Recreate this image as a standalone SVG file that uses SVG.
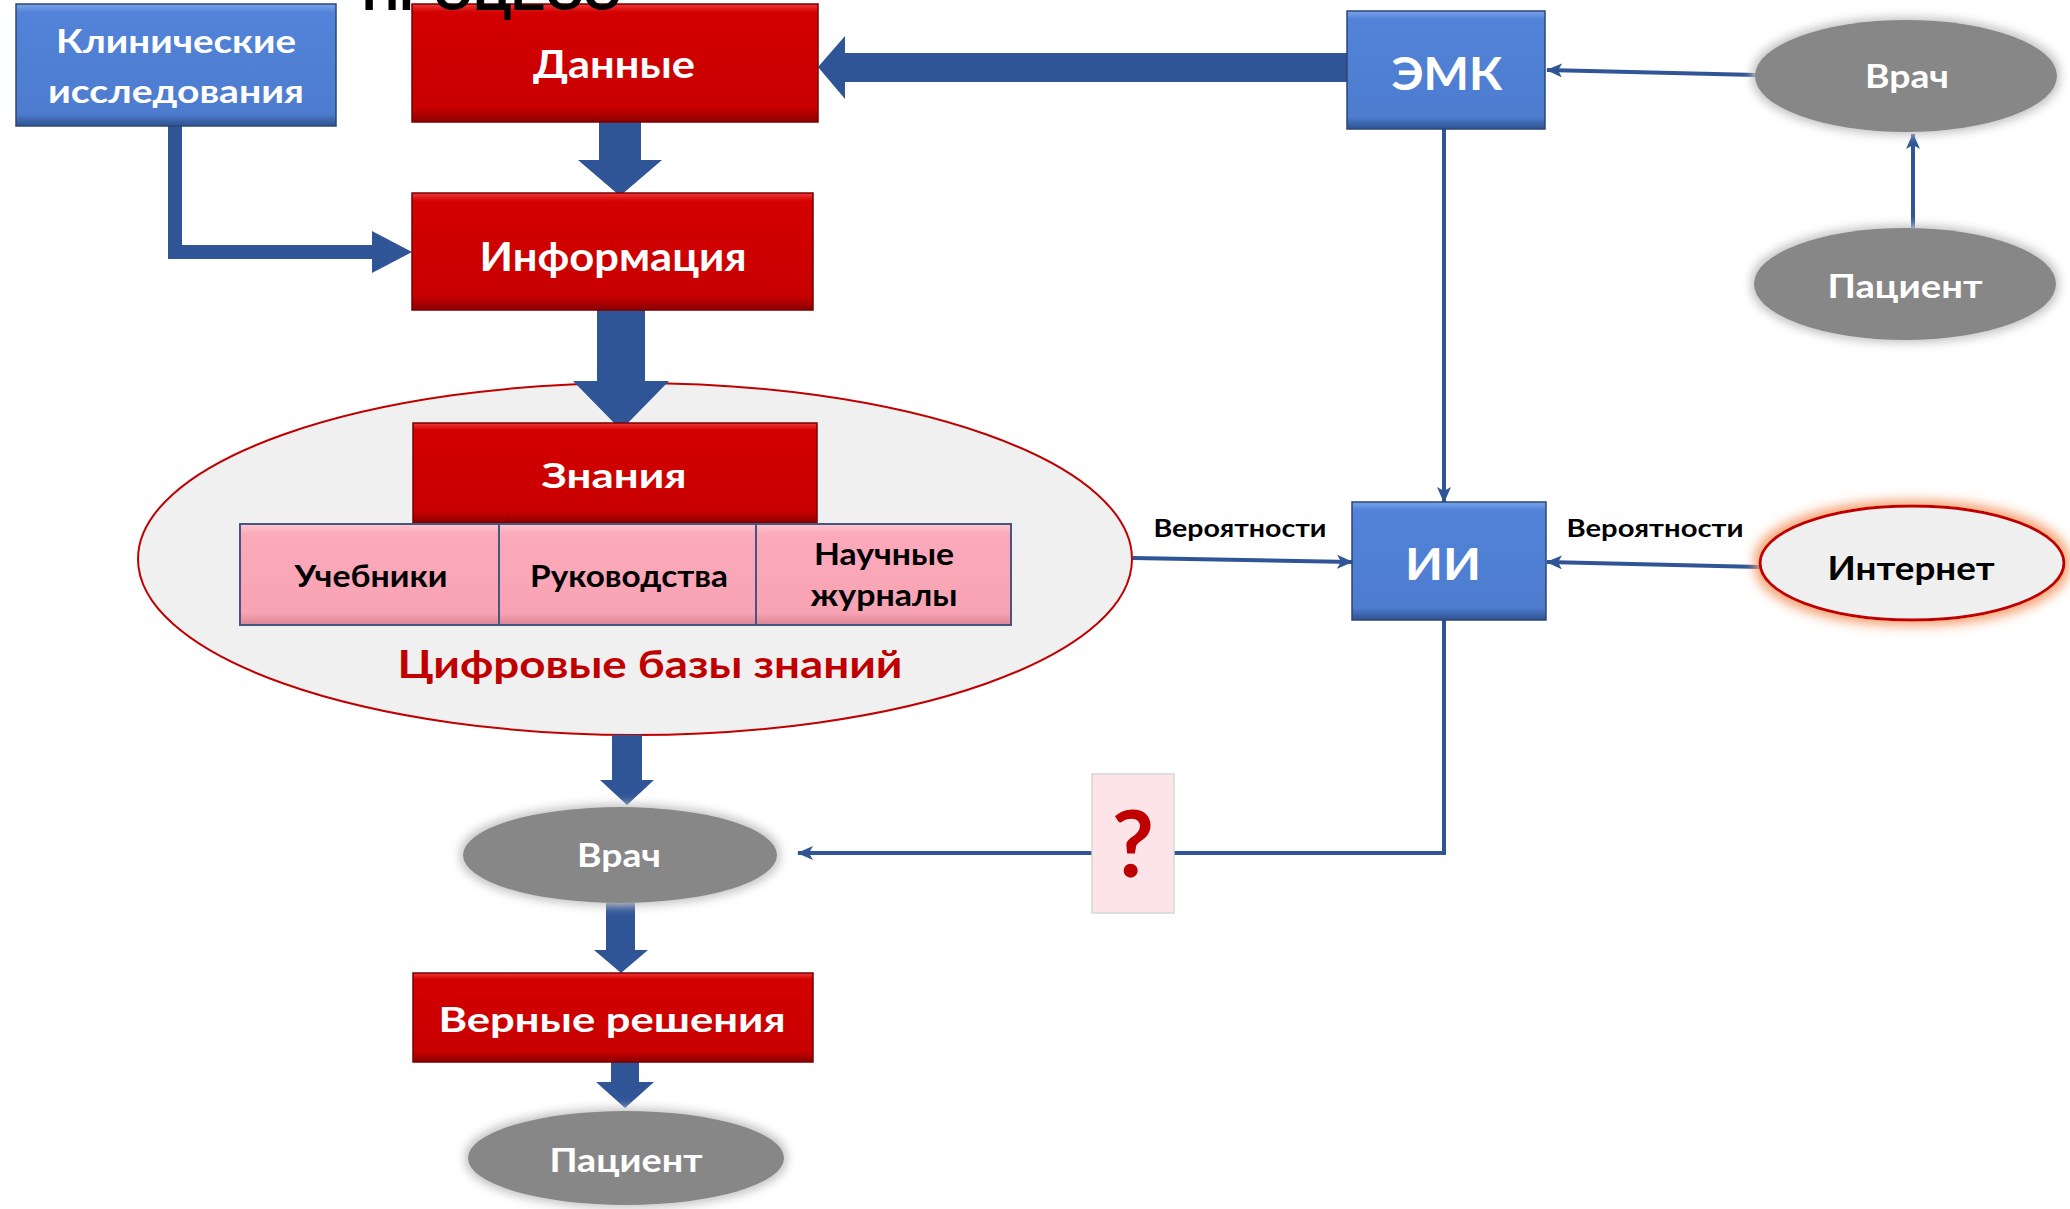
<svg xmlns="http://www.w3.org/2000/svg" width="2070" height="1209" viewBox="0 0 2070 1209">
<defs>
<style>
.t{font-family:Lato,"Open Sans","DejaVu Sans",sans-serif;font-weight:700;text-anchor:middle}
.w{fill:#ffffff}
.k{fill:#000000}
.red{fill:url(#gRed);stroke:#7a0000;stroke-width:1.5}
.blue{fill:url(#gBlue);stroke:#2c4677;stroke-width:1.5}
.pink{fill:url(#gPink);stroke:#45577f;stroke-width:2}
.gray{fill:#878787;filter:url(#glowGray)}
.thick{fill:#2f5597}
.thin{fill:none;stroke:#2f5597;stroke-width:4}
</style>
<linearGradient id="gRed" x1="0" y1="0" x2="0" y2="1">
<stop offset="0" stop-color="#ee3a3a"/>
<stop offset="0.07" stop-color="#d40000"/>
<stop offset="0.88" stop-color="#c80000"/>
<stop offset="1" stop-color="#8c0000"/>
</linearGradient>
<linearGradient id="gBlue" x1="0" y1="0" x2="0" y2="1">
<stop offset="0" stop-color="#7aa3ea"/>
<stop offset="0.07" stop-color="#5283d8"/>
<stop offset="0.9" stop-color="#4d7ccf"/>
<stop offset="1" stop-color="#2f528f"/>
</linearGradient>
<linearGradient id="gPink" x1="0" y1="0" x2="0" y2="1">
<stop offset="0" stop-color="#ffc6d0"/>
<stop offset="0.1" stop-color="#fbaabb"/>
<stop offset="0.88" stop-color="#f8a3b4"/>
<stop offset="1" stop-color="#d98595"/>
</linearGradient>
<filter id="glowGray" x="-15%" y="-30%" width="130%" height="160%">
<feMorphology in="SourceAlpha" operator="dilate" radius="3" result="d"/>
<feGaussianBlur in="d" stdDeviation="5" result="b"/>
<feFlood flood-color="#c4c4c4" result="c"/>
<feComposite in="c" in2="b" operator="in" result="g"/>
<feMerge><feMergeNode in="g"/><feMergeNode in="SourceGraphic"/></feMerge>
</filter>
<filter id="glowOrange" x="-15%" y="-30%" width="130%" height="160%">
<feMorphology in="SourceAlpha" operator="dilate" radius="4" result="d"/>
<feGaussianBlur in="d" stdDeviation="6" result="b"/>
<feFlood flood-color="#f4a070" result="c"/>
<feComposite in="c" in2="b" operator="in" result="g"/>
<feMerge><feMergeNode in="g"/><feMergeNode in="SourceGraphic"/></feMerge>
</filter>
<marker id="ah" markerUnits="userSpaceOnUse" markerWidth="16" markerHeight="14" refX="15" refY="7" orient="auto">
<path d="M0,0 L16,7 L0,14 L4,7 z" fill="#2f5597"/>
</marker>
</defs>

<g id="node-kb">
<ellipse cx="635" cy="559" rx="497" ry="176" fill="#f0f0f0" stroke="#c00000" stroke-width="2"/>
<text class="t" x="650" y="678" font-size="38" fill="#c00000" textLength="505" lengthAdjust="spacingAndGlyphs">Цифровые базы знаний</text>
</g>

<g id="connectors">
<polygon class="thick" points="599,122 641,122 641,160 662,160 620,196 578,160 599,160"/>
<polygon class="thick" points="597,309 645,309 645,381 669,381 621,430 573,381 597,381"/>
<polygon class="thick" points="612,735 642,735 642,780 654,780 627,805 600,780 612,780"/>
<polygon class="thick" points="606,903 635,903 635,950 648,950 621,973 594,950 606,950"/>
<polygon class="thick" points="611,1062 639,1062 639,1082 654,1082 625,1108 596,1082 611,1082"/>
<path d="M175,126 L175,252 L374,252" fill="none" stroke="#2f5597" stroke-width="14"/>
<polygon class="thick" points="372,231 412,252 372,273"/>
<polygon class="thick" points="1347,53 845,53 845,36 818,67 845,99 845,82 1347,82"/>
<line class="thin" x1="1756" y1="75" x2="1547" y2="70" marker-end="url(#ah)"/>
<line class="thin" x1="1913" y1="228" x2="1913" y2="134" marker-end="url(#ah)"/>
<line class="thin" x1="1444" y1="129" x2="1444" y2="502" marker-end="url(#ah)"/>
<line class="thin" x1="1133" y1="558" x2="1352" y2="562" marker-end="url(#ah)"/>
<line class="thin" x1="1760" y1="567" x2="1547" y2="562" marker-end="url(#ah)"/>
<path class="thin" d="M1444,620 L1444,853 L1174,853"/>
<line class="thin" x1="1092" y1="853" x2="798" y2="853" marker-end="url(#ah)"/>
</g>

<g id="node-clinical">
<rect class="blue" x="16" y="4" width="320" height="122"/>
<text class="t w" x="176" y="53" font-size="32" textLength="240" lengthAdjust="spacingAndGlyphs">Клинические</text>
<text class="t w" x="176" y="103" font-size="32" textLength="256" lengthAdjust="spacingAndGlyphs">исследования</text>
</g>

<g id="node-data">
<rect class="red" x="412" y="4" width="406" height="118"/>
<text class="t w" x="614" y="78" font-size="38" textLength="162" lengthAdjust="spacingAndGlyphs">Данные</text>
</g>

<g id="title-fragment">
<text x="362" y="10" font-family="'Liberation Sans',Arial,sans-serif" font-weight="700" font-size="50" fill="#000" textLength="258" lengthAdjust="spacingAndGlyphs">ПРОЦЕСС</text>
</g>

<g id="node-info">
<rect class="red" x="412" y="193" width="401" height="117"/>
<text class="t w" x="613" y="271" font-size="40" textLength="267" lengthAdjust="spacingAndGlyphs">Информация</text>
</g>

<g id="node-emk">
<rect class="blue" x="1347" y="11" width="198" height="118"/>
<text class="t w" x="1447" y="90" font-size="46" textLength="111" lengthAdjust="spacingAndGlyphs">ЭМК</text>
</g>

<g id="node-doctor-top">
<ellipse class="gray" cx="1906" cy="76" rx="151" ry="56"/>
<text class="t w" x="1907" y="88" font-size="32" textLength="84" lengthAdjust="spacingAndGlyphs">Врач</text>
</g>

<g id="node-patient-top">
<ellipse class="gray" cx="1905" cy="284" rx="151" ry="56"/>
<text class="t w" x="1905" y="298" font-size="32" textLength="155" lengthAdjust="spacingAndGlyphs">Пациент</text>
</g>

<g id="node-knowledge">
<rect class="red" x="413" y="423" width="404" height="100"/>
<text class="t w" x="614" y="488" font-size="34" textLength="145" lengthAdjust="spacingAndGlyphs">Знания</text>
</g>

<g id="node-textbooks">
<rect class="pink" x="240" y="524" width="259" height="101"/>
<text class="t k" x="371" y="587" font-size="30" textLength="153" lengthAdjust="spacingAndGlyphs">Учебники</text>
</g>

<g id="node-guides">
<rect class="pink" x="499" y="524" width="257" height="101"/>
<text class="t k" x="629" y="587" font-size="30" textLength="198" lengthAdjust="spacingAndGlyphs">Руководства</text>
</g>

<g id="node-journals">
<rect class="pink" x="756" y="524" width="255" height="101"/>
<text class="t k" x="884" y="565" font-size="30" textLength="140" lengthAdjust="spacingAndGlyphs">Научные</text>
<text class="t k" x="884" y="606" font-size="30" textLength="147" lengthAdjust="spacingAndGlyphs">журналы</text>
</g>

<g id="label-prob-left">
<text class="t k" x="1240" y="537" font-size="24" textLength="173" lengthAdjust="spacingAndGlyphs">Вероятности</text>
</g>
<g id="label-prob-right">
<text class="t k" x="1655" y="537" font-size="24" textLength="177" lengthAdjust="spacingAndGlyphs">Вероятности</text>
</g>

<g id="node-ai">
<rect class="blue" x="1352" y="502" width="194" height="118"/>
<text class="t w" x="1443" y="580" font-size="44" textLength="76" lengthAdjust="spacingAndGlyphs">ИИ</text>
</g>

<g id="node-internet">
<ellipse cx="1912" cy="563" rx="152" ry="57" fill="#efefef" stroke="#c00000" stroke-width="3" filter="url(#glowOrange)"/>
<text class="t k" x="1911" y="580" font-size="32" textLength="167" lengthAdjust="spacingAndGlyphs">Интернет</text>
</g>

<g id="node-question">
<rect x="1092" y="774" width="82" height="139" fill="#fce4e8" stroke="#d6d6d6" stroke-width="1.5"/>
<text class="t" x="1133" y="877" font-size="92" fill="#c00000" font-weight="400">?</text>
</g>

<g id="node-doctor">
<ellipse class="gray" cx="620" cy="855" rx="157" ry="48"/>
<text class="t w" x="619" y="867" font-size="32" textLength="84" lengthAdjust="spacingAndGlyphs">Врач</text>
</g>

<g id="node-decisions">
<rect class="red" x="413" y="973" width="400" height="89"/>
<text class="t w" x="612" y="1032" font-size="35" textLength="347" lengthAdjust="spacingAndGlyphs">Верные решения</text>
</g>

<g id="node-patient">
<ellipse class="gray" cx="626" cy="1158" rx="158" ry="47"/>
<text class="t w" x="626" y="1172" font-size="32" textLength="153" lengthAdjust="spacingAndGlyphs">Пациент</text>
</g>
</svg>
